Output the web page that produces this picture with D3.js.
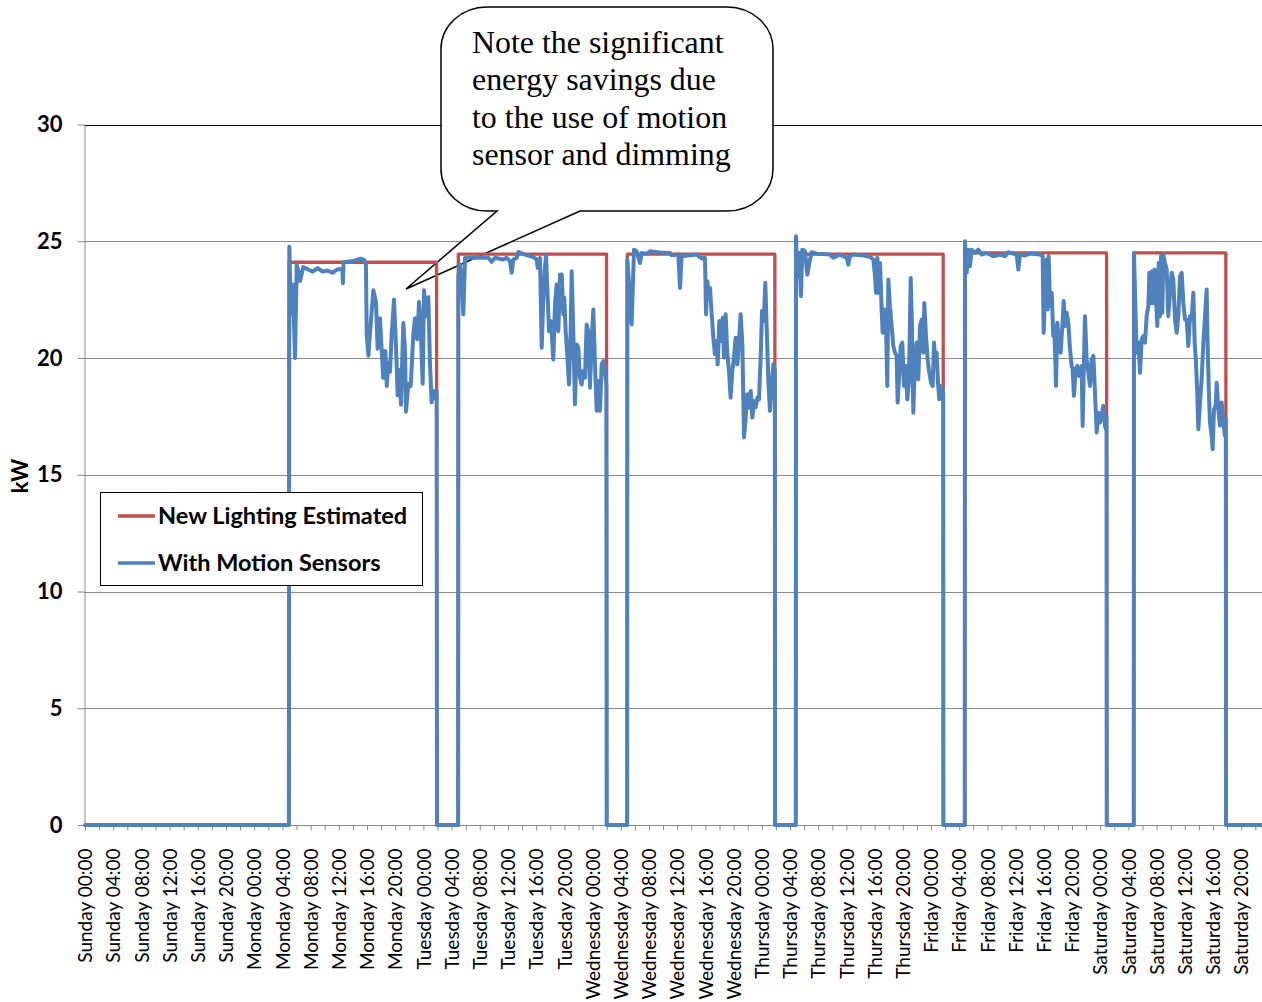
<!DOCTYPE html>
<html>
<head>
<meta charset="utf-8">
<script src="https://cdn.jsdelivr.net/npm/d3@7"></script>
<style>
  html, body { margin: 0; padding: 0; background: #fff; }
  svg { display: block; }
</style>
</head>
<body>
<svg id="chart" width="1262" height="1002"></svg>
<script>
// ---- data ---------------------------------------------------------------
const days = ["Sunday", "Monday", "Tuesday", "Wednesday", "Thursday", "Friday", "Saturday"];
const clockTimes = ["00:00", "04:00", "08:00", "12:00", "16:00", "20:00"];
const tickLabels = days.flatMap(d => clockTimes.map(t => `${d} ${t}`));
const yTicks = [0, 5, 10, 15, 20, 25, 30];
const seriesNames = ["New Lighting Estimated", "With Motion Sensors"];

// [hour of week, kW]  (hour 0 = Sunday 00:00)
const estimatedKw = [
  [0, 0], [28.92, 0], [28.95, 24.1], [49.87, 24.1], [49.9, 0],
  [52.92, 0], [52.95, 24.45], [73.98, 24.45], [74.0, 0],
  [76.9, 0], [76.93, 24.45], [97.85, 24.45], [97.88, 0],
  [100.82, 0], [100.85, 24.45], [121.73, 24.45], [121.76, 0],
  [124.79, 0], [124.82, 24.5], [144.9, 24.5], [144.93, 0],
  [148.76, 0], [148.79, 24.5], [161.82, 24.5], [161.85, 0], [167, 0]
];

const sensorMonday = [
  [0, 0], [28.92, 0], [28.98, 24.76], [29.22, 21.9], [29.46, 23.15], [29.79, 20.0], [30.03, 24.0],
  [30.3, 23.7], [30.5, 23.3], [30.96, 23.9], [31.6, 23.8], [32.3, 23.7], [33.0, 23.85], [33.7, 23.7],
  [34.4, 23.75], [35.1, 23.65], [35.8, 23.8], [36.5, 23.8], [36.58, 23.2], [36.68, 24.1], [38.0, 24.15],
  [39.1, 24.25], [39.6, 24.2], [39.85, 24.0], [39.96, 21.0], [40.2, 20.1], [40.43, 21.1], [40.9, 22.9],
  [41.28, 22.4], [41.5, 20.4], [41.84, 21.7], [42.3, 19.15], [42.6, 20.3], [42.8, 18.8], [43.0, 19.8],
  [43.26, 19.4], [43.5, 21.0], [43.83, 22.5], [44.1, 20.6], [44.35, 18.4], [44.58, 19.5], [44.82, 18.0],
  [45.15, 21.5], [45.4, 20.3], [45.53, 17.7], [45.86, 18.9], [46.2, 18.8], [46.57, 21.0], [46.8, 21.7],
  [47.13, 20.8], [47.38, 22.4], [47.6, 21.4], [47.9, 18.9], [48.09, 22.9], [48.37, 21.8], [48.7, 22.6],
  [48.94, 19.7], [49.17, 18.1], [49.4, 18.6], [49.65, 18.3], [49.88, 18.6], [49.93, 0]
];

const sensorTuesday = [
  [52.93, 0], [52.96, 23.5], [53.2, 24.0], [53.45, 23.2], [53.66, 21.87], [53.9, 24.29], [55.5, 24.3],
  [57.21, 24.29], [57.68, 24.12], [58.16, 24.29], [59.34, 24.22], [59.81, 24.29], [60.28, 24.15],
  [60.52, 23.65], [60.75, 24.22], [61.23, 24.29], [61.46, 24.54], [62.41, 24.43], [63.59, 24.32],
  [64.07, 24.22], [64.21, 23.86], [64.54, 24.29], [64.78, 20.44], [65.01, 22.58], [65.2, 23.72],
  [65.39, 24.4], [65.63, 22.58], [65.82, 21.15], [66.1, 21.58], [66.43, 19.94], [66.67, 22.29],
  [66.91, 23.15], [67.14, 21.15], [67.38, 23.58], [67.62, 23.58], [67.85, 21.87], [67.99, 22.58],
  [68.18, 21.15], [68.46, 19.87], [68.65, 18.87], [68.89, 21.15], [69.03, 23.72], [69.26, 21.15],
  [69.5, 18.02], [69.74, 20.58], [69.97, 20.44], [70.21, 19.16], [70.45, 18.87], [70.68, 19.44],
  [70.92, 19.16], [71.16, 21.44], [71.39, 21.15], [71.63, 18.73], [71.87, 20.73], [72.1, 22.08],
  [72.34, 19.73], [72.58, 17.74], [72.81, 19.02], [73.05, 17.74], [73.29, 19.73], [73.52, 19.87],
  [73.76, 19.44], [73.95, 18.87], [74.0, 0]
];

const sensorWednesday = [
  [76.9, 0], [76.93, 24.22], [77.2, 23.0], [77.54, 21.44], [77.87, 24.64], [78.25, 24.57], [78.72, 24.07],
  [78.96, 24.5], [79.67, 24.46], [80.14, 24.57], [81.5, 24.52], [82.98, 24.5], [83.22, 24.4], [84.16, 24.43],
  [84.4, 23.0], [84.63, 24.36], [85.82, 24.4], [86.76, 24.43], [87.47, 24.26], [87.94, 24.29], [88.09, 21.87],
  [88.27, 23.29], [88.51, 22.58], [88.65, 23.0], [88.89, 21.87], [89.13, 20.87], [89.36, 20.16], [89.6, 20.73],
  [89.74, 19.73], [89.98, 21.58], [90.21, 20.73], [90.45, 21.72], [90.64, 20.02], [90.87, 21.87], [91.11, 20.16],
  [91.35, 19.44], [91.58, 18.3], [91.82, 19.44], [92.06, 20.02], [92.29, 20.87], [92.53, 19.73], [92.77, 20.73],
  [93.0, 21.87], [93.24, 20.58], [93.48, 16.6], [93.71, 17.45], [93.95, 18.45], [94.18, 17.88], [94.42, 18.59],
  [94.66, 17.45], [94.89, 18.16], [95.13, 17.88], [95.37, 18.3], [95.6, 18.23], [95.84, 20.02], [96.03, 22.01],
  [96.27, 21.58], [96.5, 23.22], [96.69, 21.3], [96.93, 19.02], [97.16, 17.74], [97.4, 18.87], [97.64, 19.73],
  [97.85, 19.5], [97.88, 0]
];

const sensorThursday = [
  [100.82, 0], [100.85, 25.21], [101.04, 23.5], [101.32, 24.5], [101.56, 22.65], [101.75, 24.64],
  [102.13, 24.57], [102.46, 23.57], [102.74, 24.07], [103.07, 24.53], [103.78, 24.47], [105.67, 24.43],
  [106.15, 24.29], [106.62, 24.36], [107.09, 24.43], [107.56, 24.36], [108.04, 24.29], [108.27, 24.0],
  [108.51, 24.36], [108.98, 24.43], [110.4, 24.39], [111.35, 24.33], [111.82, 24.22], [112.06, 23.5],
  [112.2, 22.79], [112.39, 24.29], [112.62, 22.79], [112.77, 24.07], [113.0, 22.08], [113.14, 21.08],
  [113.38, 22.08], [113.62, 21.37], [113.8, 18.8], [113.95, 23.36], [114.18, 22.22], [114.42, 21.37],
  [114.66, 20.51], [114.89, 20.23], [115.13, 20.09], [115.27, 18.09], [115.51, 19.37], [115.7, 20.51],
  [115.93, 20.66], [116.17, 18.8], [116.41, 19.66], [116.64, 18.23], [116.88, 19.09], [117.12, 23.43],
  [117.3, 21.37], [117.49, 17.66], [117.73, 19.94], [117.97, 20.66], [118.2, 19.09], [118.44, 21.37],
  [118.68, 21.65], [118.91, 20.23], [119.05, 22.36], [119.29, 20.94], [119.53, 19.94], [119.76, 19.37],
  [120.0, 18.94], [120.24, 18.8], [120.43, 20.66], [120.61, 19.66], [120.8, 20.23], [120.99, 18.94],
  [121.18, 18.23], [121.37, 18.8], [121.61, 18.66], [121.73, 18.5], [121.76, 0]
];

const sensorFriday = [
  [124.79, 0], [124.82, 25.0], [125.06, 23.65], [125.29, 24.64], [125.53, 23.93], [125.77, 24.64],
  [126.24, 24.5], [126.71, 24.64], [127.19, 24.43], [127.9, 24.5], [128.84, 24.36], [129.79, 24.43],
  [130.5, 24.36], [130.97, 24.53], [132.15, 24.43], [132.39, 23.79], [132.62, 24.43], [133.33, 24.39],
  [134.04, 24.47], [135.46, 24.43], [135.84, 24.36], [135.98, 21.08], [136.17, 22.79], [136.41, 24.22],
  [136.55, 22.08], [136.69, 24.36], [136.88, 22.22], [137.12, 22.79], [137.35, 20.94], [137.49, 21.37],
  [137.73, 18.8], [137.92, 21.51], [138.16, 20.51], [138.39, 20.23], [138.63, 21.37], [138.82, 22.44],
  [139.01, 21.37], [139.24, 21.94], [139.48, 21.51], [139.72, 20.37], [139.95, 19.66], [140.09, 19.52],
  [140.28, 18.38], [140.52, 19.52], [140.76, 19.66], [140.99, 19.23], [141.13, 19.37], [141.37, 19.66],
  [141.51, 17.09], [141.7, 19.94], [141.84, 21.79], [142.08, 19.94], [142.32, 19.37], [142.55, 18.8],
  [142.79, 19.94], [143.03, 20.09], [143.26, 18.52], [143.5, 16.81], [143.74, 17.66], [143.97, 17.24],
  [144.21, 17.52], [144.44, 17.95], [144.68, 17.09], [144.82, 16.95], [144.9, 17.5], [144.93, 0]
];

const sensorSaturday = [
  [148.76, 0], [148.79, 24.5], [149.17, 20.23], [149.41, 20.66], [149.65, 19.37], [149.88, 20.8],
  [150.12, 20.94], [150.35, 20.66], [150.59, 21.79], [150.83, 22.22], [150.97, 23.65], [151.16, 22.36],
  [151.35, 23.72], [151.54, 22.36], [151.72, 23.79], [151.91, 22.65], [152.1, 21.37], [152.29, 24.07],
  [152.48, 21.79], [152.62, 24.36], [152.81, 21.94], [152.95, 24.43], [153.19, 24.07], [153.43, 23.79],
  [153.66, 21.79], [153.9, 22.79], [154.14, 23.65], [154.37, 23.36], [154.61, 21.65], [154.85, 21.08],
  [155.08, 21.79], [155.32, 23.5], [155.56, 23.65], [155.79, 22.36], [156.03, 21.65], [156.26, 21.65],
  [156.5, 20.51], [156.74, 21.79], [156.97, 21.65], [157.21, 22.79], [157.4, 20.66], [157.59, 19.8],
  [157.78, 18.38], [157.92, 16.95], [158.16, 18.09], [158.39, 19.09], [158.63, 20.66], [158.87, 21.79],
  [159.1, 22.93], [159.24, 20.51], [159.43, 18.38], [159.57, 17.24], [159.81, 16.67], [159.95, 16.1],
  [160.14, 17.8], [160.38, 17.95], [160.52, 18.94], [160.76, 17.8], [160.99, 17.1], [161.23, 18.09],
  [161.47, 17.24], [161.7, 16.67], [161.82, 17.38], [161.85, 0], [167, 0]
];

const calloutLines = [
  "Note the significant",
  "energy savings due",
  "to the use of motion",
  "sensor and dimming"
];

// ---- drawing -------------------------------------------------------------
const sansFont = "Lato, 'Open Sans', sans-serif";
const gridColor = "#898989";
const estimatedColor = "#C0504D";
const sensorColor = "#4F81BD";

const svg = d3.select("#chart");
const x = d3.scaleLinear().domain([0, 167]).range([85, 85 + 167 * 7.05]);
const y = d3.scaleLinear().domain([0, 30]).range([825, 124.5]);
const plotLeft = 84, plotRight = 1262;

// horizontal gridlines
svg.append("g").selectAll("line")
  .data(yTicks.filter(v => v > 0))
  .join("line")
  .attr("x1", plotLeft).attr("x2", plotRight)
  .attr("y1", d => Math.round(y(d)) + 0.5).attr("y2", d => Math.round(y(d)) + 0.5)
  .attr("stroke", d => d === 30 ? "#000" : gridColor)
  .attr("stroke-width", 1);

// y axis
const yAxis = svg.append("g")
  .attr("transform", `translate(${plotLeft + 0.5},0)`)
  .call(d3.axisLeft(y).tickValues(yTicks).tickSize(7).tickSizeOuter(0).tickPadding(15));
yAxis.select(".domain").attr("stroke", gridColor);
yAxis.selectAll(".tick line").attr("stroke", gridColor);
yAxis.selectAll(".tick text")
  .attr("font-family", sansFont).attr("font-weight", 700).attr("font-size", 22)
  .attr("fill", "#000");

// x axis: ticks every 2 hours, labels every 4 hours
const xAxis = svg.append("g")
  .attr("transform", `translate(0,${825.5})`)
  .call(d3.axisBottom(x)
    .tickValues(d3.range(0, 167, 2))
    .tickSize(5).tickSizeOuter(0)
    .tickFormat(h => h % 4 === 0 ? tickLabels[h / 4] : ""));
xAxis.select(".domain").attr("stroke", gridColor).attr("d", `M${plotLeft},0H${plotRight}`);
xAxis.selectAll(".tick line").attr("stroke", gridColor);
xAxis.selectAll(".tick text")
  .attr("transform", "rotate(-90)")
  .attr("x", -23).attr("y", 0).attr("dy", "0.35em")
  .attr("text-anchor", "end")
  .attr("font-family", sansFont).attr("font-size", 19)
  .attr("fill", "#000");

// y axis title
svg.append("text")
  .attr("transform", `translate(28,476) rotate(-90)`)
  .attr("text-anchor", "middle")
  .attr("font-family", sansFont).attr("font-weight", 700).attr("font-size", 22)
  .text("kW");

// callout bubble (under the data lines)
const bL = 441, bR = 773, bT = 7, bB = 211, rx = 46, ry = 42;
const tail = { left: 497, right: 580, tipX: 406, tipY: 289 };
const bubblePath = [
  `M${bL + rx},${bT}`, `H${bR - rx}`,
  `A${rx},${ry} 0 0 1 ${bR},${bT + ry}`, `V${bB - ry}`,
  `A${rx},${ry} 0 0 1 ${bR - rx},${bB}`, `H${tail.right}`,
  `L${tail.tipX},${tail.tipY}`, `L${tail.left},${bB}`, `H${bL + rx}`,
  `A${rx},${ry} 0 0 1 ${bL},${bB - ry}`, `V${bT + ry}`,
  `A${rx},${ry} 0 0 1 ${bL + rx},${bT}`, "Z"
].join(" ");
svg.append("path")
  .attr("d", bubblePath)
  .attr("fill", "#fff").attr("stroke", "#000").attr("stroke-width", 1.5)
  .attr("stroke-linejoin", "miter");
svg.append("g").selectAll("text")
  .data(calloutLines)
  .join("text")
  .attr("x", 472).attr("y", (d, i) => 53 + i * 37.4)
  .attr("font-family", "'Liberation Serif', 'Times New Roman', serif")
  .attr("font-size", 31.9)
  .attr("fill", "#000")
  .text(d => d);

// series lines
const line = d3.line().x(d => x(d[0])).y(d => y(d[1]));
const sensorKw = [].concat(sensorMonday, sensorTuesday, sensorWednesday,
  sensorThursday, sensorFriday, sensorSaturday);

svg.append("path")
  .datum(estimatedKw)
  .attr("d", line)
  .attr("fill", "none").attr("stroke", estimatedColor).attr("stroke-width", 3.3)
  .attr("stroke-linejoin", "round");
svg.append("path")
  .datum(sensorKw)
  .attr("d", line)
  .attr("fill", "none").attr("stroke", sensorColor).attr("stroke-width", 4)
  .attr("stroke-linejoin", "round").attr("stroke-linecap", "round");

// legend
const legend = svg.append("g");
legend.append("rect")
  .attr("x", 100.5).attr("y", 492.5).attr("width", 322).attr("height", 93)
  .attr("fill", "#fff").attr("stroke", "#000").attr("stroke-width", 1);
const legendRows = legend.selectAll("g.row")
  .data(seriesNames.map((name, i) => ({ name, color: [estimatedColor, sensorColor][i], yPos: 516 + i * 47 })))
  .join("g").attr("class", "row");
legendRows.append("line")
  .attr("x1", 118).attr("x2", 155)
  .attr("y1", d => d.yPos).attr("y2", d => d.yPos)
  .attr("stroke", d => d.color).attr("stroke-width", 3.5);
legendRows.append("text")
  .attr("x", 158).attr("y", d => d.yPos).attr("dy", "0.36em")
  .attr("font-family", sansFont).attr("font-weight", 700).attr("font-size", 23.5)
  .attr("fill", "#000")
  .text(d => d.name);
</script>
</body>
</html>
